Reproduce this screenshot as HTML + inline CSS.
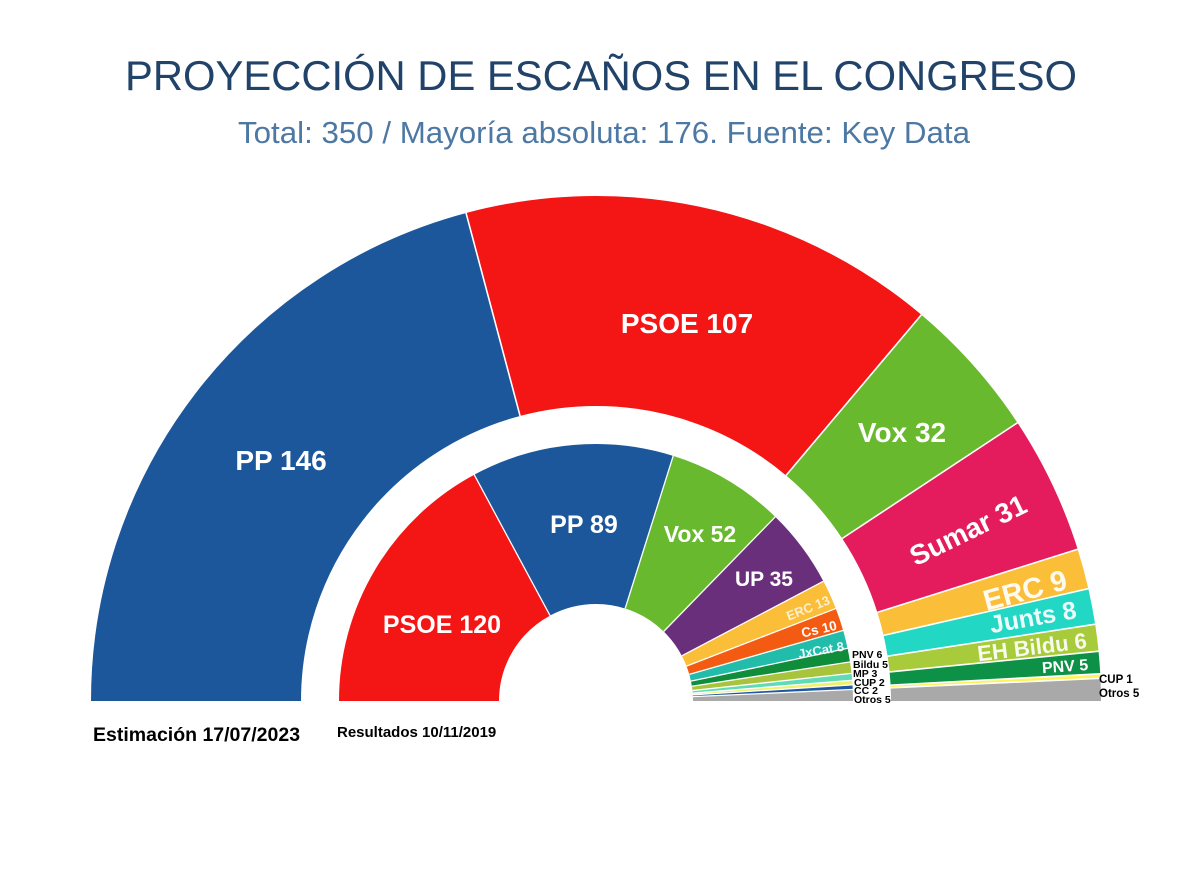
<!DOCTYPE html>
<html>
<head>
<meta charset="utf-8">
<style>
html,body{margin:0;padding:0;background:#ffffff;width:1200px;height:869px;overflow:hidden;}
svg{display:block;overflow:hidden;}
text{font-family:"Liberation Sans",Arial,sans-serif;}
.w{fill:#ffffff;font-weight:bold;}
.k{fill:#000000;font-weight:bold;}
</style>
</head>
<body>
<svg width="1200" height="869" viewBox="0 0 1200 869" xmlns="http://www.w3.org/2000/svg">
<rect x="0" y="0" width="1200" height="869" fill="#ffffff"/>

<!-- Title -->
<text x="601" y="90" text-anchor="middle" font-size="41.5" fill="#21436a" textLength="952" lengthAdjust="spacingAndGlyphs">PROYECCIÓN DE ESCAÑOS EN EL CONGRESO</text>
<text x="604" y="143" text-anchor="middle" font-size="31" fill="#4d78a4" textLength="732" lengthAdjust="spacingAndGlyphs">Total: 350 / Mayoría absoluta: 176. Fuente: Key Data</text>

<!-- Outer ring (r 295..505), mid r=400, width 210; semicircle path from left over top -->
<g fill="none" stroke-width="210">
  <path d="M196 701 A400 400 0 0 1 996 701" stroke="#1b579a" stroke-dasharray="524.7 3000" stroke-dashoffset="0"/>
  <path d="M196 701 A400 400 0 0 1 996 701" stroke="#f41515" stroke-dasharray="384.7 3000" stroke-dashoffset="-524.197"/>
  <path d="M196 701 A400 400 0 0 1 996 701" stroke="#69b92e" stroke-dasharray="115.4 3000" stroke-dashoffset="-908.369"/>
  <path d="M196 701 A400 400 0 0 1 996 701" stroke="#e41b5c" stroke-dasharray="111.8 3000" stroke-dashoffset="-1023.262"/>
  <path d="M196 701 A400 400 0 0 1 996 701" stroke="#fbbe38" stroke-dasharray="32.8 3000" stroke-dashoffset="-1134.564"/>
  <path d="M196 701 A400 400 0 0 1 996 701" stroke="#22d8c4" stroke-dasharray="29.2 3000" stroke-dashoffset="-1166.877"/>
  <path d="M196 701 A400 400 0 0 1 996 701" stroke="#a8cb3c" stroke-dasharray="22.0 3000" stroke-dashoffset="-1195.601"/>
  <path d="M196 701 A400 400 0 0 1 996 701" stroke="#0d9146" stroke-dasharray="18.4 3000" stroke-dashoffset="-1217.143"/>
  <path d="M196 701 A400 400 0 0 1 996 701" stroke="#fff35a" stroke-dasharray="4.0 3000" stroke-dashoffset="-1235.095"/>
  <path d="M196 701 A400 400 0 0 1 996 701" stroke="#a9a9a9" stroke-dasharray="17.952 3000" stroke-dashoffset="-1238.685"/>
</g>

<!-- Inner ring (r 97..257), mid r=177, width 160 -->
<g fill="none" stroke-width="160">
  <path d="M419 701 A177 177 0 0 1 773 701" stroke="#f41515" stroke-dasharray="191.1 3000" stroke-dashoffset="0"/>
  <path d="M419 701 A177 177 0 0 1 773 701" stroke="#1b579a" stroke-dasharray="141.8 3000" stroke-dashoffset="-190.650"/>
  <path d="M419 701 A177 177 0 0 1 773 701" stroke="#69b92e" stroke-dasharray="83.0 3000" stroke-dashoffset="-332.049"/>
  <path d="M419 701 A177 177 0 0 1 773 701" stroke="#6a2f7b" stroke-dasharray="56.0 3000" stroke-dashoffset="-414.663"/>
  <path d="M419 701 A177 177 0 0 1 773 701" stroke="#fbbe38" stroke-dasharray="21.0 3000" stroke-dashoffset="-470.270"/>
  <path d="M419 701 A177 177 0 0 1 773 701" stroke="#f35a12" stroke-dasharray="16.3 3000" stroke-dashoffset="-490.923"/>
  <path d="M419 701 A177 177 0 0 1 773 701" stroke="#22bcaa" stroke-dasharray="13.1 3000" stroke-dashoffset="-506.811"/>
  <path d="M419 701 A177 177 0 0 1 773 701" stroke="#0f8d3a" stroke-dasharray="9.9 3000" stroke-dashoffset="-519.521"/>
  <path d="M419 701 A177 177 0 0 1 773 701" stroke="#a8c43c" stroke-dasharray="8.3 3000" stroke-dashoffset="-529.053"/>
  <path d="M419 701 A177 177 0 0 1 773 701" stroke="#5fdcb6" stroke-dasharray="5.1 3000" stroke-dashoffset="-536.997"/>
  <path d="M419 701 A177 177 0 0 1 773 701" stroke="#f2ef6a" stroke-dasharray="3.5 3000" stroke-dashoffset="-541.763"/>
  <path d="M419 701 A177 177 0 0 1 773 701" stroke="#1e58a0" stroke-dasharray="3.4 3000" stroke-dashoffset="-544.941"/>
  <path d="M419 701 A177 177 0 0 1 773 701" stroke="#a9a9a9" stroke-dasharray="7.944 3000" stroke-dashoffset="-548.118"/>
</g>

<!-- Separators outer -->
<g stroke="#ffffff" stroke-width="1.6">
  <line x1="301" y1="701" x2="89" y2="701" transform="rotate(75.086 596 701)"/>
  <line x1="301" y1="701" x2="89" y2="701" transform="rotate(130.114 596 701)"/>
  <line x1="301" y1="701" x2="89" y2="701" transform="rotate(146.571 596 701)"/>
  <line x1="301" y1="701" x2="89" y2="701" transform="rotate(162.514 596 701)"/>
  <line x1="301" y1="701" x2="89" y2="701" transform="rotate(167.143 596 701)"/>
  <line x1="301" y1="701" x2="89" y2="701" transform="rotate(171.257 596 701)"/>
  <line x1="301" y1="701" x2="89" y2="701" transform="rotate(174.343 596 701)"/>
  <line x1="301" y1="701" x2="89" y2="701" transform="rotate(176.914 596 701)"/>
  <line x1="301" y1="701" x2="89" y2="701" transform="rotate(177.429 596 701)"/>
</g>
<!-- Separators inner -->
<g stroke="#ffffff" stroke-width="1.3">
  <line x1="499" y1="701" x2="337" y2="701" transform="rotate(61.714 596 701)"/>
  <line x1="499" y1="701" x2="337" y2="701" transform="rotate(107.486 596 701)"/>
  <line x1="499" y1="701" x2="337" y2="701" transform="rotate(134.229 596 701)"/>
  <line x1="499" y1="701" x2="337" y2="701" transform="rotate(152.229 596 701)"/>
  <line x1="499" y1="701" x2="337" y2="701" transform="rotate(158.914 596 701)"/>
  <line x1="499" y1="701" x2="337" y2="701" transform="rotate(164.057 596 701)"/>
  <line x1="499" y1="701" x2="337" y2="701" transform="rotate(168.171 596 701)"/>
  <line x1="499" y1="701" x2="337" y2="701" transform="rotate(171.257 596 701)"/>
  <line x1="499" y1="701" x2="337" y2="701" transform="rotate(173.829 596 701)"/>
  <line x1="499" y1="701" x2="337" y2="701" transform="rotate(175.371 596 701)"/>
  <line x1="499" y1="701" x2="337" y2="701" transform="rotate(176.400 596 701)"/>
  <line x1="499" y1="701" x2="337" y2="701" transform="rotate(177.429 596 701)"/>
</g>

<!-- Outer labels -->
<text class="w" x="281" y="470" text-anchor="middle" font-size="28">PP 146</text>
<text class="w" x="687" y="333" text-anchor="middle" font-size="28">PSOE 107</text>
<text class="w" x="902" y="442" text-anchor="middle" font-size="28">Vox 32</text>
<text class="w" transform="translate(968 530) rotate(-26)" text-anchor="middle" dy="0.35em" font-size="28">Sumar 31</text>
<text class="w" transform="translate(1025 590) rotate(-15)" text-anchor="middle" dy="0.35em" font-size="29" fill-opacity="0.92">ERC 9</text>
<text class="w" transform="translate(1033 617) rotate(-10)" text-anchor="middle" dy="0.35em" font-size="25" fill-opacity="0.92">Junts 8</text>
<text class="w" transform="translate(1032 647) rotate(-7)" text-anchor="middle" dy="0.35em" font-size="22" fill-opacity="0.9">EH Bildu 6</text>
<text class="w" transform="translate(1065 666) rotate(-4)" text-anchor="middle" dy="0.35em" font-size="16">PNV 5</text>
<text class="k" x="1099" y="683" font-size="11.5">CUP 1</text>
<text class="k" x="1099" y="697" font-size="11.5">Otros 5</text>

<!-- Inner labels -->
<text class="w" x="442" y="633" text-anchor="middle" font-size="25">PSOE 120</text>
<text class="w" x="584" y="533" text-anchor="middle" font-size="25">PP 89</text>
<text class="w" x="700" y="542" text-anchor="middle" font-size="23">Vox 52</text>
<text class="w" x="764" y="586" text-anchor="middle" font-size="21">UP 35</text>
<text class="w" transform="translate(808 608) rotate(-22)" text-anchor="middle" dy="0.35em" font-size="13" fill-opacity="0.75">ERC 13</text>
<text class="w" transform="translate(819 629) rotate(-13)" text-anchor="middle" dy="0.35em" font-size="13.5">Cs 10</text>
<text class="w" transform="translate(821 650) rotate(-10)" text-anchor="middle" dy="0.35em" font-size="13" fill-opacity="0.9">JxCat 8</text>
<text class="k" x="852" y="658" font-size="10.5">PNV 6</text>
<text class="k" x="853" y="668" font-size="10.5">Bildu 5</text>
<text class="k" x="853" y="677" font-size="10.5">MP 3</text>
<text class="k" x="854" y="686" font-size="10.5">CUP 2</text>
<text class="k" x="854" y="694" font-size="10.5">CC 2</text>
<text class="k" x="854" y="703" font-size="10.5">Otros 5</text>

<!-- Bottom captions -->
<text class="k" x="93" y="741" font-size="19.5" fill="#111">Estimación 17/07/2023</text>
<text class="k" x="337" y="737" font-size="15" fill="#111">Resultados 10/11/2019</text>
</svg>
</body>
</html>
